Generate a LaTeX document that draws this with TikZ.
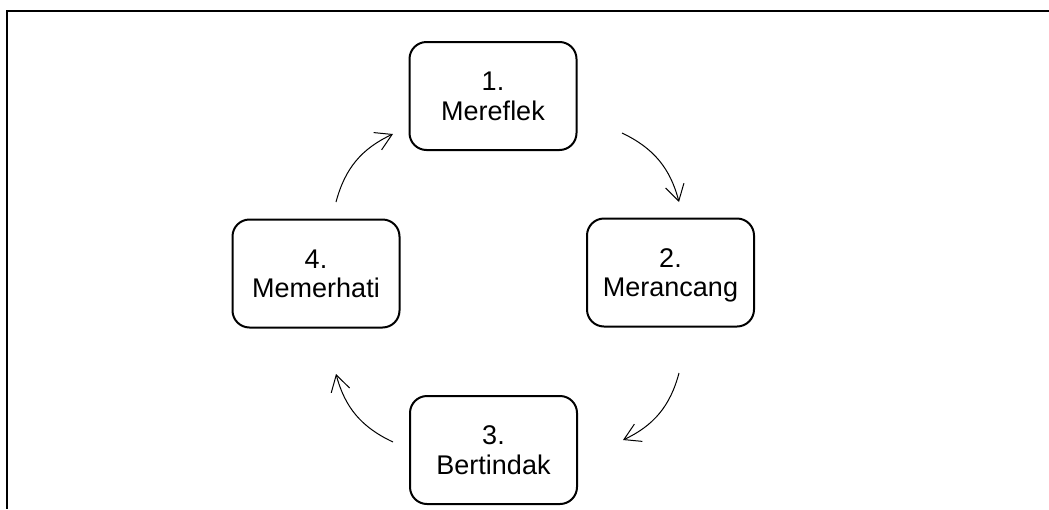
\documentclass[tikz,border=0pt]{standalone}
\usepackage{fontspec}
\setmainfont{Liberation Sans}
\usetikzlibrary{arrows.meta}
\begin{document}
\begin{tikzpicture}[x=1pt,y=1pt,
  stagebox/.style={draw, line width=2pt, rounded corners=17pt,
    minimum width=167pt, minimum height=108pt, align=center,
    font=\fontsize{27}{29.5}\selectfont, text depth=0pt, inner sep=0pt},
  cyclearrow/.style={line width=1pt, -{Straight Barb[length=16pt,width=19pt,line width=1pt]}, bend left=25}
]
\useasboundingbox (0,0) rectangle (1049,-509);
\draw[line width=2pt] (1049,-11) -- (7,-11) -- (7,-509);
\node[stagebox] (s1) at (493,-96) {1.\\Mereflek};
\node[stagebox] (s2) at (670.5,-272.5) {2.\\Merancang};
\node[stagebox] (s3) at (493.5,-450) {3.\\Bertindak};
\node[stagebox] (s4) at (316,-273.5) {4.\\Memerhati};
\coordinate (a1s) at (622,-133);
\coordinate (a1e) at (679,-202);
\coordinate (a2s) at (679,-373);
\coordinate (a2e) at (623,-440);
\coordinate (a3s) at (393,-442);
\coordinate (a3e) at (336,-374);
\coordinate (a4s) at (336,-202);
\coordinate (a4e) at (393,-134);
\draw[cyclearrow] (a1s) to (a1e);
\draw[cyclearrow] (a2s) to (a2e);
\draw[cyclearrow] (a3s) to (a3e);
\draw[cyclearrow] (a4s) to (a4e);
\end{tikzpicture}
\end{document}
